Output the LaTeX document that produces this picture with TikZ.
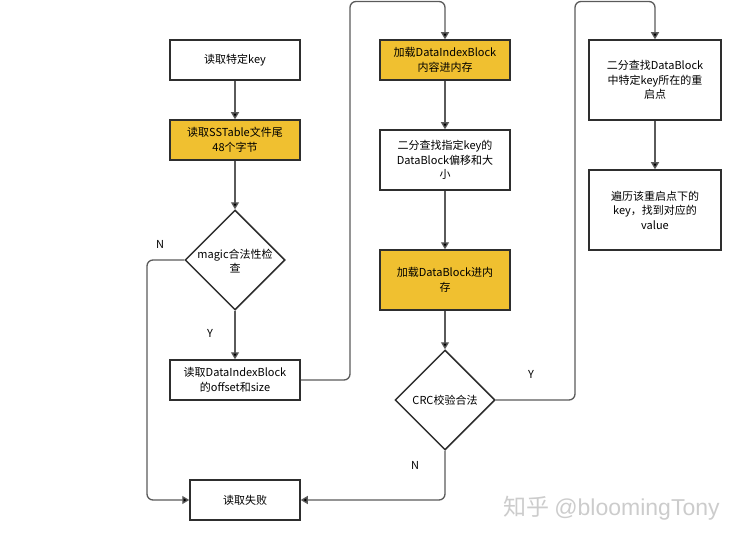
\documentclass[tikz,border=0pt]{standalone}
\usepackage{fontspec}
\setmainfont{Noto Sans CJK SC}
\newfontfamily\latfont{Liberation Sans}
\usetikzlibrary{shapes.geometric,arrows.meta}
\definecolor{boxyellow}{HTML}{F0C030}
\definecolor{edgegray}{HTML}{5A5A5A}
\definecolor{bordergray}{HTML}{2E2E2E}
\tikzset{
  box/.style={draw=bordergray, line width=1.5pt, fill=white, minimum width=130pt, inner sep=0pt, align=center, font=\fontsize{11}{14.5}\selectfont},
  ybox/.style={box, fill=boxyellow},
  dia/.style={draw=bordergray, line width=1.5pt, diamond, minimum width=100pt, minimum height=100pt, inner sep=0pt, fill=white},
  diatext/.style={align=center, font=\fontsize{11}{14.5}\selectfont, inner sep=0pt},
  arr/.style={draw=edgegray, line width=1.3pt, rounded corners=6pt, -{Triangle[width=8pt,length=7pt,fill=black]}},
  lbl/.style={font=\fontsize{11}{13}\selectfont, inner sep=0pt},
}
\begin{document}
\begin{tikzpicture}[x=1pt,y=-1pt]
\useasboundingbox (0,0) rectangle (746,540);
% left column
\node[box, minimum height=40pt] (k1) at (235,60) {读取特定key};
\node[ybox, minimum height=40pt] (k2) at (235,140) {读取SSTable文件尾\\48个字节};
\node[dia] (d1) at (235,260) {};
\node[diatext] (d1t) at (235,261) {magic合法性检\\查};
\node[box, minimum height=40pt] (k3) at (235,380) {读取DataIndexBlock\\的offset和size};
\node[box, minimum width=110pt, minimum height=40pt] (fail) at (245,500) {读取失败};
% middle column
\node[ybox, minimum height=40pt] (m1) at (445,60) {加载DataIndexBlock\\内容进内存};
\node[box, minimum height=60pt] (m2) at (445,160) {二分查找指定key的\\DataBlock偏移和大\\小};
\node[ybox, minimum height=60pt] (m3) at (445,280) {加载DataBlock进内\\存};
\node[dia] (d2) at (445,400) {};
\node[diatext] (d2t) at (445,400) {CRC校验合法};
% right column
\node[box, minimum width=132pt, minimum height=80pt] (r1) at (655,80) {二分查找DataBlock\\中特定key所在的重\\启点};
\node[box, minimum width=132pt, minimum height=80pt] (r2) at (655,210) {遍历该重启点下的\\key，找到对应的\\value};
% turning points
\coordinate (t1) at (350,1.5);
\coordinate (t2) at (575,1.5);
\coordinate (t3) at (147,260);
% connectors
\draw[arr] (k1) -- (k2);
\draw[arr] (k2) -- (d1.north);
\draw[arr] (d1.south) -- (k3);
\draw[arr] (d1.west) -- (t3) |- (fail.west);
\draw[arr] (k3.east) -| (t1) -| (m1.north);
\draw[arr] (m1) -- (m2);
\draw[arr] (m2) -- (m3);
\draw[arr] (m3) -- (d2.north);
\draw[arr] (d2.east) -| (t2) -| (r1.north);
\draw[arr] (d2.south) |- (fail.east);
\draw[arr] (r1) -- (r2);
% labels
\node[lbl] (n1) at (160,244) {N};
\node[lbl] (y1) at (210,333) {Y};
\node[lbl] (y2) at (531,374) {Y};
\node[lbl] (n2) at (415,465) {N};
% watermark
\node[font=\fontsize{23}{26}\selectfont, text=black!20, inner sep=0pt, anchor=west] (wm) at (503,508) {知乎 {\latfont @bloomingTony}};
\end{tikzpicture}
\end{document}
